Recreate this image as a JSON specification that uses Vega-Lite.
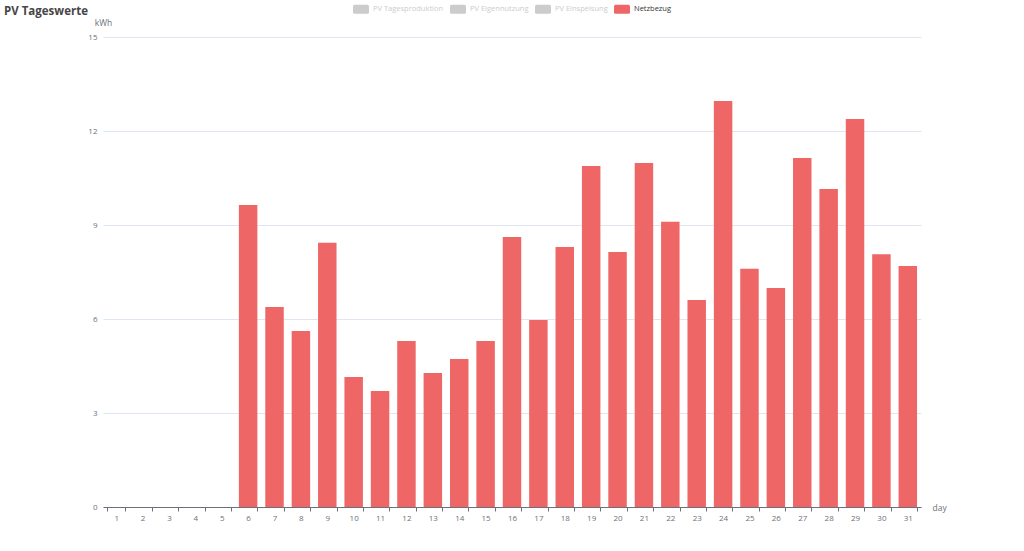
{
  "$schema": "https://vega.github.io/schema/vega-lite/v6.json",
  "autosize": "none",
  "width": 818,
  "height": 470,
  "padding": {"left": 103, "top": 37, "right": 103, "bottom": 44},
  "background": "white",
  "title": {
    "text": "PV Tageswerte",
    "anchor": "start",
    "frame": "group",
    "dx": -99,
    "dy": 20,
    "fontSize": 11.5,
    "fontWeight": "bold",
    "color": "#464646",
    "font": "Open Sans"
  },
  "data": {
    "values": [
      {"day": 1, "series": "Netzbezug", "kwh": 0},
      {"day": 2, "series": "Netzbezug", "kwh": 0},
      {"day": 3, "series": "Netzbezug", "kwh": 0},
      {"day": 4, "series": "Netzbezug", "kwh": 0},
      {"day": 5, "series": "Netzbezug", "kwh": 0},
      {"day": 6, "series": "Netzbezug", "kwh": 9.64},
      {"day": 7, "series": "Netzbezug", "kwh": 6.38},
      {"day": 8, "series": "Netzbezug", "kwh": 5.62},
      {"day": 9, "series": "Netzbezug", "kwh": 8.43},
      {"day": 10, "series": "Netzbezug", "kwh": 4.15},
      {"day": 11, "series": "Netzbezug", "kwh": 3.7},
      {"day": 12, "series": "Netzbezug", "kwh": 5.3},
      {"day": 13, "series": "Netzbezug", "kwh": 4.28},
      {"day": 14, "series": "Netzbezug", "kwh": 4.72},
      {"day": 15, "series": "Netzbezug", "kwh": 5.3},
      {"day": 16, "series": "Netzbezug", "kwh": 8.62},
      {"day": 17, "series": "Netzbezug", "kwh": 5.97},
      {"day": 18, "series": "Netzbezug", "kwh": 8.3},
      {"day": 19, "series": "Netzbezug", "kwh": 10.88},
      {"day": 20, "series": "Netzbezug", "kwh": 8.14},
      {"day": 21, "series": "Netzbezug", "kwh": 10.98},
      {"day": 22, "series": "Netzbezug", "kwh": 9.1},
      {"day": 23, "series": "Netzbezug", "kwh": 6.61},
      {"day": 24, "series": "Netzbezug", "kwh": 12.96},
      {"day": 25, "series": "Netzbezug", "kwh": 7.6},
      {"day": 26, "series": "Netzbezug", "kwh": 6.99},
      {"day": 27, "series": "Netzbezug", "kwh": 11.14},
      {"day": 28, "series": "Netzbezug", "kwh": 10.15},
      {"day": 29, "series": "Netzbezug", "kwh": 12.38},
      {"day": 30, "series": "Netzbezug", "kwh": 8.07},
      {"day": 31, "series": "Netzbezug", "kwh": 7.69}
    ]
  },
  "mark": {"type": "bar"},
  "encoding": {
    "x": {
      "field": "day",
      "type": "ordinal",
      "scale": {"paddingInner": 0.3, "paddingOuter": 0.15},
      "axis": {
        "title": "day",
        "titleX": 829,
        "titleY": 0,
        "titleAlign": "left",
        "titleBaseline": "middle",
        "titleFontWeight": "normal",
        "titleFontSize": 8.5,
        "titleColor": "#6E7079",
        "labelAngle": 0,
        "labelFontSize": 8,
        "labelColor": "#6E7079",
        "labelPadding": 3,
        "tickBand": "extent",
        "tickSize": 4,
        "tickColor": "#6E7079",
        "domainColor": "#6E7079",
        "grid": false
      }
    },
    "y": {
      "field": "kwh",
      "type": "quantitative",
      "scale": {"domain": [0, 15], "nice": false},
      "axis": {
        "title": "kWh",
        "titleAngle": 0,
        "titleX": 0,
        "titleY": -10,
        "titleAlign": "center",
        "titleBaseline": "bottom",
        "titleFontWeight": "normal",
        "titleFontSize": 8.5,
        "titleColor": "#6E7079",
        "values": [0, 3, 6, 9, 12, 15],
        "labelFontSize": 8,
        "labelColor": "#6E7079",
        "labelPadding": 6,
        "ticks": false,
        "domain": false,
        "gridColor": "#E0E6F1"
      }
    },
    "color": {
      "field": "series",
      "type": "nominal",
      "scale": {
        "domain": ["PV Tagesproduktion", "PV Eigennutzung", "PV Einspeisung", "Netzbezug"],
        "range": ["#cccccc", "#cccccc", "#cccccc", "#ee6666"]
      },
      "legend": {
        "title": null,
        "orient": "none",
        "direction": "horizontal",
        "legendX": 250,
        "legendY": -36,
        "symbolType": "M-0.8,-0.5625H0.8Q1,-0.5625 1,-0.36V0.36Q1,0.5625 0.8,0.5625H-0.8Q-1,0.5625 -1,0.36V-0.36Q-1,-0.5625 -0.8,-0.5625Z",
        "symbolSize": 256,
        "symbolStrokeWidth": 0,
        "labelFontSize": 7.5,
        "labelOffset": 4,
        "columnPadding": 6,
        "encode": {
          "labels": {
            "update": {
              "fill": {"signal": "datum.label === 'Netzbezug' ? '#333333' : '#cccccc'"}
            }
          }
        }
      }
    }
  },
  "config": {
    "font": "Open Sans",
    "view": {"stroke": null}
  }
}
